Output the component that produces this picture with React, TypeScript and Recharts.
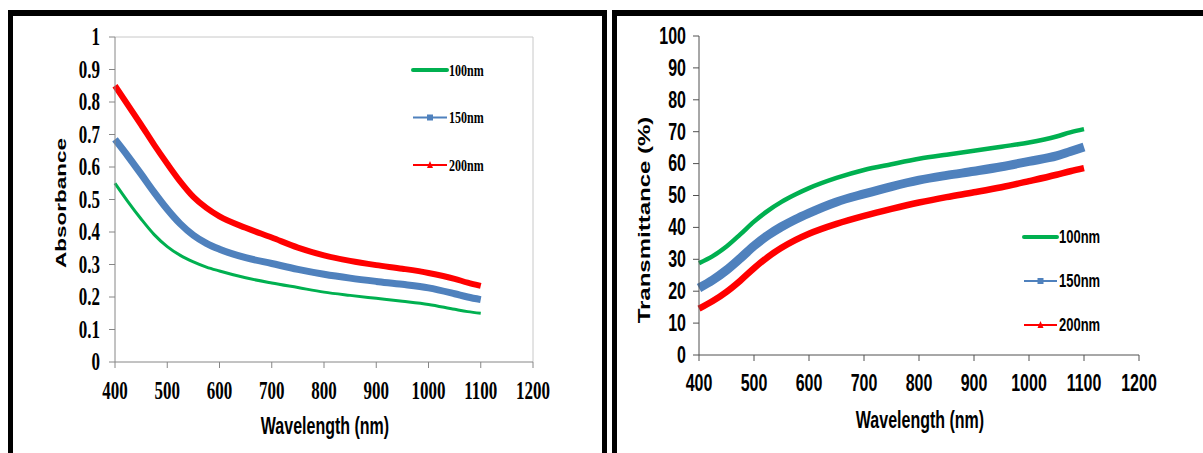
import { Legend, Line, LineChart, ReferenceLine, XAxis, YAxis } from "recharts";

// wavelengths (nm) shared by both panels
const wavelengths = [
  400, 425, 450, 475, 500, 525, 550, 575, 600, 650, 700, 750, 800, 850, 900,
  950, 1000, 1050, 1075, 1100,
];

// absorbance
const abs100 = [
  0.55, 0.493, 0.44, 0.392, 0.355, 0.328, 0.308, 0.292, 0.28, 0.259, 0.243,
  0.229, 0.215, 0.205, 0.196, 0.187, 0.177, 0.162, 0.155, 0.15,
];
const abs150 = [
  0.685, 0.633, 0.578, 0.522, 0.47, 0.425, 0.39, 0.365, 0.347, 0.321, 0.303,
  0.285, 0.27, 0.258, 0.248, 0.239, 0.228, 0.21, 0.2, 0.192,
];
const abs200 = [
  0.85, 0.79, 0.73, 0.668, 0.61, 0.555, 0.508, 0.474, 0.448, 0.413, 0.383,
  0.352, 0.328, 0.311, 0.298, 0.287, 0.274, 0.256, 0.244, 0.234,
];

// transmittance (%)
const trans100 = [
  28.8, 31, 34, 37.8, 41.8, 45.2, 48, 50.3, 52.3, 55.5, 58, 59.8, 61.5, 62.8,
  64, 65.3, 66.6, 68.5, 69.8, 70.8,
];
const trans150 = [
  21, 23.5, 26.6, 30.3, 34.2, 37.5, 40.2, 42.5, 44.5, 48, 50.5, 52.8, 54.8,
  56.3, 57.6, 59, 60.7, 62.4, 63.8, 65.2,
];
const trans200 = [
  14.5, 16.9, 19.8, 23.3, 27.2, 30.7, 33.6, 36, 38, 41.1, 43.6, 45.8, 47.8,
  49.5, 51, 52.6, 54.5, 56.5, 57.6, 58.6,
];

const xTicks = [400, 500, 600, 700, 800, 900, 1000, 1100, 1200];
const absTicks = [0, 0.1, 0.2, 0.3, 0.4, 0.5, 0.6, 0.7, 0.8, 0.9, 1];
const transTicks = [0, 10, 20, 30, 40, 50, 60, 70, 80, 90, 100];
const seriesNames = ["100nm", "150nm", "200nm"];
const seriesColors = ["#00B050", "#4F81BD", "#FF0000"];

const absData = wavelengths.map((wl, i) => ({
  wl,
  s100: abs100[i],
  s150: abs150[i],
  s200: abs200[i],
}));
const transData = wavelengths.map((wl, i) => ({
  wl,
  s100: trans100[i],
  s150: trans150[i],
  s200: trans200[i],
}));

const SERIF = "'Liberation Serif', 'Times New Roman', serif";
const SANS = "'Liberation Sans', Arial, sans-serif";
const STRETCH = 1.45; // the source picture is stretched vertically

const makeTick =
  (font: string, size: number, anchor: "middle" | "end") => (props: any) => {
    const { x, y, payload } = props;
    return (
      <g transform={`translate(${x},${y}) scale(1,${STRETCH})`}>
        <text
          x={0}
          y={size * 0.34}
          textAnchor={anchor}
          fontFamily={font}
          fontWeight="bold"
          fontSize={size}
          fill="#000"
        >
          {String(payload.value)}
        </text>
      </g>
    );
  };

const makeLegend =
  (font: string, size: number, gap: number, lineLen: number) =>
  (props: any) => {
    const items = props.payload || [];
    return (
      <svg width={120} height={gap * 3} style={{ overflow: "visible" }}>
        {items.map((it: any, i: number) => {
          const cy = 15 + i * gap;
          const mid = lineLen / 2;
          return (
            <g key={it.value}>
              <line
                x1={0}
                x2={lineLen}
                y1={cy}
                y2={cy}
                stroke={it.color}
                strokeWidth={i === 0 ? 4 : 2}
                strokeLinecap={i === 0 ? "round" : "butt"}
              />
              {i === 1 && (
                <rect x={mid - 3} y={cy - 3} width={6} height={6} fill={it.color} />
              )}
              {i === 2 && (
                <path
                  d={`M${mid - 3},${cy + 3} L${mid},${cy - 4} L${mid + 3},${cy + 3} Z`}
                  fill={it.color}
                />
              )}
              <g transform={`translate(${lineLen + 2},${cy}) scale(1,${STRETCH})`}>
                <text
                  x={0}
                  y={size * 0.34}
                  fontFamily={font}
                  fontWeight="bold"
                  fontSize={size}
                  fill="#000"
                >
                  {it.value}
                </text>
              </g>
            </g>
          );
        })}
      </svg>
    );
  };

const labelStyle = (x: number, y: number, size: number, transform: string) =>
  ({
    position: "absolute",
    left: x,
    top: y,
    fontFamily: SANS,
    fontWeight: "bold",
    fontSize: size,
    whiteSpace: "nowrap",
    lineHeight: 1,
    transform: `translate(-50%,-50%) ${transform}`,
    color: "#000",
  }) as const;

const panelStyle = (left: number, width: number) =>
  ({
    position: "absolute",
    left,
    top: 10,
    width,
    height: 470,
    borderTop: "6px solid #000",
    borderLeft: "5px solid #000",
    borderRight: "5px solid #000",
    boxSizing: "border-box",
  }) as const;

export default function App() {
  return (
    <div
      style={{
        position: "absolute",
        left: 0,
        top: 0,
        width: 1203,
        height: 453,
        background: "#fff",
        overflow: "hidden",
      }}
    >
      <div style={panelStyle(8, 599)} />
      <div style={panelStyle(612, 620)} />

      {/* left: absorbance */}
      <div style={{ position: "absolute", left: 0, top: 0 }}>
        <LineChart
          width={600}
          height={453}
          data={absData}
          margin={{ top: 37, right: 67, bottom: 31, left: 55 }}
        >
          <XAxis
            dataKey="wl"
            type="number"
            domain={[400, 1200]}
            ticks={xTicks}
            height={60}
            stroke="#868686"
            tickSize={6}
            tickMargin={23}
            tick={makeTick(SERIF, 17, "middle")}
          />
          <YAxis
            type="number"
            domain={[0, 1]}
            ticks={absTicks}
            width={60}
            stroke="#868686"
            tickSize={6}
            tickMargin={9}
            tick={makeTick(SERIF, 17, "end")}
          />
          <ReferenceLine y={1} stroke="#c8c8c8" />
          <ReferenceLine x={1200} stroke="#c8c8c8" />
          <Legend
            layout="vertical"
            align="center"
            verticalAlign="middle"
            wrapperStyle={{ left: 413, top: 55, width: 120 }}
            content={makeLegend(SERIF, 12, 47.5, 34)}
          />
          {["s100", "s150", "s200"].map((k, i) => (
            <Line
              key={k}
              dataKey={k}
              name={seriesNames[i]}
              type="monotone"
              stroke={seriesColors[i]}
              strokeWidth={[3, 7, 6][i]}
              dot={false}
              isAnimationActive={false}
            />
          ))}
        </LineChart>
      </div>

      {/* right: transmittance */}
      <div style={{ position: "absolute", left: 600, top: 0 }}>
        <LineChart
          width={603}
          height={453}
          data={transData}
          margin={{ top: 36, right: 64, bottom: 38, left: 39 }}
        >
          <XAxis
            dataKey="wl"
            type="number"
            domain={[400, 1200]}
            ticks={xTicks}
            height={60}
            stroke="#505050"
            tickSize={6}
            tickMargin={22}
            tick={makeTick(SANS, 16, "middle")}
          />
          <YAxis
            type="number"
            domain={[0, 100]}
            ticks={transTicks}
            width={60}
            stroke="#505050"
            tickSize={6}
            tickMargin={7}
            tick={makeTick(SANS, 16, "end")}
          />
          <Legend
            layout="vertical"
            align="center"
            verticalAlign="middle"
            wrapperStyle={{ left: 424, top: 222, width: 120 }}
            content={makeLegend(SANS, 13, 44, 33)}
          />
          {["s100", "s150", "s200"].map((k, i) => (
            <Line
              key={k}
              dataKey={k}
              name={seriesNames[i]}
              type="monotone"
              stroke={seriesColors[i]}
              strokeWidth={[4.5, 9, 6.5][i]}
              dot={false}
              isAnimationActive={false}
            />
          ))}
        </LineChart>
      </div>

      <div style={labelStyle(60, 203, 15, "rotate(-90deg) scale(1.5,1)")}>
        Absorbance
      </div>
      <div style={labelStyle(325, 427, 16, `scale(1,${STRETCH})`)}>
        Wavelength (nm)
      </div>
      <div style={labelStyle(645, 220, 16, "rotate(-90deg) scale(1.5,1)")}>
        Transmittance (%)
      </div>
      <div style={labelStyle(920, 421, 16, `scale(1,${STRETCH})`)}>
        Wavelength (nm)
      </div>
    </div>
  );
}
